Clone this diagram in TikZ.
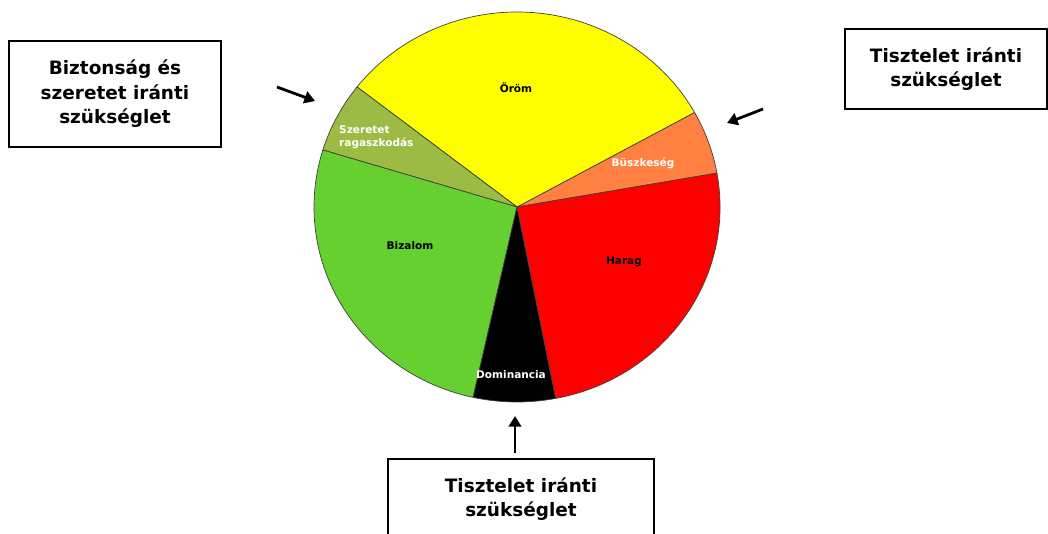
\documentclass[tikz,border=0pt]{standalone}
\usepackage{fontspec}
\setsansfont{DejaVu Sans}
\definecolor{joyYellow}{RGB}{255, 255, 0}
\definecolor{loveOlive}{RGB}{155, 187, 69}
\definecolor{trustGreen}{RGB}{102, 208, 48}
\definecolor{prideOrange}{RGB}{255, 128, 64}
\definecolor{angerRed}{RGB}{255, 0, 0}
\usepackage{tikz}
\usetikzlibrary{shapes,arrows,positioning,calc,arrows.meta}

\tikzset{
    needbox/.style={draw=black,line width=1.1pt,fill=white,align=center,
        font=\sffamily\bfseries\fontsize{10.5}{14}\selectfont},
    slicelabel/.style={font=\sffamily\bfseries\fontsize{6}{7.5}\selectfont},
    slice/.style={draw=black!75,line width=0.4pt},
    pointer/.style={line width=1.6pt,-{Triangle[length=6pt,width=7pt]}}
}

\begin{document}
\begin{tikzpicture}[x=0.02cm,y=0.02cm]
                \useasboundingbox (0,0) rectangle (1048,534);
                % Pie of emotions
                \coordinate (mid) at (517,327);
                \filldraw[slice,fill=prideOrange] (mid) -- ++(10:203 and 195) arc[start angle=10,end angle=29,x radius=203,y radius=195] -- cycle;
                \filldraw[slice,fill=joyYellow] (mid) -- ++(29:203 and 195) arc[start angle=29,end angle=142,x radius=203,y radius=195] -- cycle;
                \filldraw[slice,fill=loveOlive] (mid) -- ++(142:203 and 195) arc[start angle=142,end angle=163,x radius=203,y radius=195] -- cycle;
                \filldraw[slice,fill=trustGreen] (mid) -- ++(163:203 and 195) arc[start angle=163,end angle=257.5,x radius=203,y radius=195] -- cycle;
                \filldraw[slice,fill=black] (mid) -- ++(257.5:203 and 195) arc[start angle=257.5,end angle=281,x radius=203,y radius=195] -- cycle;
                \filldraw[slice,fill=angerRed] (mid) -- ++(281:203 and 195) arc[start angle=281,end angle=370,x radius=203,y radius=195] -- cycle;

                \node[slicelabel] (joy) at (516,446) {Öröm};
                \node[slicelabel,text=white,anchor=west,align=left] (love) at (333,397) {Szeretet\\ragaszkodás};
                \node[slicelabel,text=white] (pride) at (643,371) {Büszkeség};
                \node[slicelabel] (trust) at (410,288) {Bizalom};
                \node[slicelabel] (anger) at (624,272) {Harag};
                \node[slicelabel,text=white] (dominance) at (511,159) {Dominancia};

                % Needs
                \node[needbox,minimum width=4.24cm,minimum height=2.12cm] (safety) at (115,440) {Biztonság és\\szeretet iránti\\szükséglet};
                \node[needbox,minimum width=4.04cm,minimum height=1.6cm] (esteemA) at (946,465) {Tisztelet iránti\\szükséglet};
                \node[needbox,minimum width=5.32cm,minimum height=1.6cm] (esteemB) at (521,35) {Tisztelet iránti\\szükséglet};

                \coordinate (safetyTail) at (277,447);
                \coordinate (safetyHead) at (315,433);
                \coordinate (esteemATail) at (763,425);
                \coordinate (esteemAHead) at (727,411);
                \coordinate (esteemBTail) at (515,81);
                \coordinate (esteemBHead) at (515,118);
                \draw[pointer] (safetyTail) -- (safetyHead);
                \draw[pointer] (esteemATail) -- (esteemAHead);
                \draw[pointer] (esteemBTail) -- (esteemBHead);
            \end{tikzpicture}
\end{document}
